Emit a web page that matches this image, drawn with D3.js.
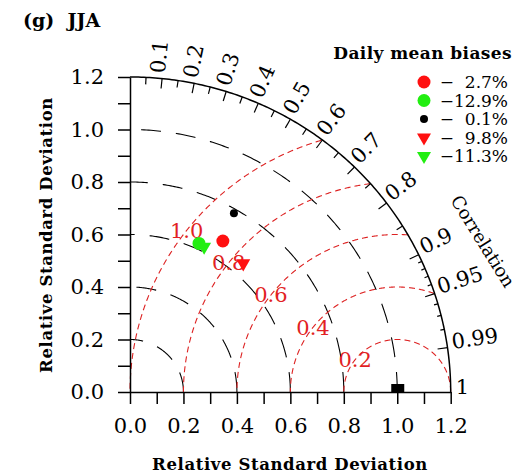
<!DOCTYPE html>
<meta charset="utf-8">
<style>
body { margin: 0; background: #fff; }
text { font-family: "DejaVu Serif", serif; fill: #000; }
.tick text { font-size: 21px; font-family: "DejaVu Serif", serif; }
.title { font-weight: bold; }
.corr-label { font-size: 21px; }
.rms-label { font-size: 21px; fill: #e21f24; }
.legend text { font-size: 17px; white-space: pre; }
</style>
<svg width="520" height="476"></svg>
<script src="https://d3js.org/d3.v7.min.js"></script>
<script>

// values
var biasLabels = [-2.7, -12.9, -0.1, -9.8, -11.3];
var stdRatio   = [0.672, 0.622, 0.784, 0.648, 0.619];
var corr       = [0.517, 0.415, 0.496, 0.654, 0.448];
var shapes     = ["circle", "circle", "dot", "triangle", "triangle"];
var colors     = ["#ff1010", "#22ee11", "#000000", "#ff1010", "#22ee11"];

var stdTicks   = d3.range(0, 13).map(function(i) { return i / 10; });
var stdArcs    = [0.2, 0.4, 0.6, 0.8, 1.0];
var rmsLevels  = [0.2, 0.4, 0.6, 0.8, 1.0];
var corrMajor  = [0.1, 0.2, 0.3, 0.4, 0.5, 0.6, 0.7, 0.8, 0.9, 0.95, 0.99, 1];
var corrLabels = ["0.1", "0.2", "0.3", "0.4", "0.5", "0.6", "0.7", "0.8", "0.9", "0.95", "0.99", "1"];
var corrMinor  = [0.05, 0.15, 0.25, 0.35, 0.45, 0.55, 0.65, 0.75, 0.85,
                  0.91, 0.92, 0.93, 0.94, 0.96, 0.97, 0.98];
var maxStd = 1.2;

var svg = d3.select("svg");

var x = d3.scaleLinear().domain([0, maxStd]).range([130, 450.7]);
var y = d3.scaleLinear().domain([0, maxStd]).range([392, 77]);

function pol(r, th) { return [x(r * Math.cos(th)), y(r * Math.sin(th))]; }

var line = d3.line();

// black dashed std-dev arcs
svg.append("g").selectAll("path")
    .data(stdArcs)
  .enter().append("path")
    .attr("d", function(r) {
      return line(d3.range(0, 181).map(function(i) { return pol(r, i / 180 * Math.PI / 2); }));
    })
    .attr("fill", "none")
    .attr("stroke", "#000")
    .attr("stroke-width", 1.1)
    .attr("stroke-dasharray", "20,15");

// red dashed RMS circles around the reference point
function rmsPoints(R) {
  return d3.range(0, 721).map(function(i) {
    var t = i / 720 * Math.PI;
    return [1 + R * Math.cos(t), R * Math.sin(t)];
  }).filter(function(p) {
    return Math.sqrt(p[0] * p[0] + p[1] * p[1]) <= maxStd + 1e-9 && p[0] >= -1e-9;
  }).map(function(p) { return [x(p[0]), y(p[1])]; });
}

svg.append("g").selectAll("path")
    .data(rmsLevels)
  .enter().append("path")
    .attr("d", function(R) { return line(rmsPoints(R)); })
    .attr("fill", "none")
    .attr("stroke", "#dd2222")
    .attr("stroke-width", 1.1)
    .attr("stroke-dasharray", "6,4");

var labAng = 142 / 180 * Math.PI;
svg.append("g").selectAll("text")
    .data(rmsLevels)
  .enter().append("text")
    .attr("class", "rms-label")
    .attr("x", function(R) { return x(1 + R * Math.cos(labAng)); })
    .attr("y", function(R) { return y(R * Math.sin(labAng)); })
    .attr("dy", "0.35em")
    .attr("text-anchor", "middle")
    .text(d3.format(".1f"));

// outer arc
svg.append("path")
    .attr("d", line(d3.range(0, 181).map(function(i) { return pol(maxStd, i / 180 * Math.PI / 2); })))
    .attr("fill", "none")
    .attr("stroke", "#000")
    .attr("stroke-width", 1.5);

// correlation ticks
function corrTick(len) {
  return function(c) {
    var th = Math.acos(c);
    var a = pol(maxStd, th);
    return line([a, [a[0] - len * Math.cos(th), a[1] + len * Math.sin(th)]]);
  };
}
svg.append("g").selectAll("path")
    .data(corrMajor.slice(0, -1))
  .enter().append("path")
    .attr("d", corrTick(10))
    .attr("stroke", "#000").attr("stroke-width", 1.2);
svg.append("g").selectAll("path")
    .data(corrMinor)
  .enter().append("path")
    .attr("d", function(c) { return corrTick(c > 0.9 ? 4 : 7)(c); })
    .attr("stroke", "#000").attr("stroke-width", 1.2);

svg.append("g").selectAll("text")
    .data(corrMajor)
  .enter().append("text")
    .attr("class", "corr-label")
    .attr("transform", function(c) {
      var th = Math.acos(c);
      var a = pol(maxStd, th);
      return "translate(" + (a[0] + 5 * Math.cos(th)) + "," + (a[1] - 5 * Math.sin(th)) + ")rotate(" + (-th * 180 / Math.PI) + ")";
    })
    .attr("dy", "0.1em")
    .text(function(c, i) { return corrLabels[i]; });

var ct = pol(1.44, 23.5 / 180 * Math.PI);
svg.append("text")
    .attr("transform", "translate(" + ct[0] + "," + ct[1] + ")rotate(58)")
    .attr("text-anchor", "middle")
    .attr("dy", "0.35em")
    .style("font-size", "18px")
    .text("Correlation");

// axes
var fmt = function(d) { return Math.round(d * 10) % 2 === 0 ? d3.format(".1f")(d) : ""; };

var xAxis = svg.append("g")
    .attr("transform", "translate(0," + y(0) + ")")
    .call(d3.axisBottom(x).tickValues(stdTicks).tickFormat(fmt).tickSize(12).tickSizeOuter(0).tickPadding(14));
var yAxis = svg.append("g")
    .attr("transform", "translate(" + x(0) + ",0)")
    .call(d3.axisLeft(y).tickValues(stdTicks).tickFormat(fmt).tickSize(12).tickSizeOuter(0).tickPadding(14));
[xAxis, yAxis].forEach(function(g) {
  g.attr("font-family", null).attr("font-size", null);
  g.selectAll("path, line").attr("stroke-width", 1.5);
});

// reference point
svg.append("rect")
    .attr("x", x(1) - 6)
    .attr("y", y(0) - 8)
    .attr("width", 13)
    .attr("height", 8)
    .attr("fill", "#000");

// model points
function drawMarker(g, shape, color) {
  if (shape === "triangle") {
    g.append("path")
      .attr("d", d3.symbol(d3.symbolTriangle, 85)())
      .attr("transform", "rotate(180)")
      .attr("fill", color);
  } else {
    g.append("circle")
      .attr("r", shape === "dot" ? 4 : 6.5)
      .attr("fill", color);
  }
}

stdRatio.forEach(function(s, i) {
  var p = pol(s, Math.acos(corr[i]));
  var g = svg.append("g").attr("transform", "translate(" + p[0] + "," + p[1] + ")");
  drawMarker(g, shapes[i], colors[i]);
});

// legend
svg.append("text")
    .attr("class", "title")
    .attr("x", 512).attr("y", 59)
    .attr("text-anchor", "end")
    .style("font-size", "17px")
    .style("letter-spacing", "0.4px")
    .text("Daily mean biases");

var legend = svg.append("g").attr("class", "legend");
biasLabels.forEach(function(b, i) {
  var yy = 82 + i * 18.5;
  var g = legend.append("g").attr("transform", "translate(424," + yy + ")");
  drawMarker(g, shapes[i], colors[i]);
  var v = d3.format(".1f")(Math.abs(b));
  if (v.length < 4) v = "\u2007" + v;
  legend.append("text")
    .attr("x", 508).attr("y", yy + 6)
    .attr("text-anchor", "end")
    .text("\u2212" + v + "%");
});

// titles
svg.append("text")
    .attr("class", "title")
    .attr("x", 23).attr("y", 27)
    .style("font-size", "19px")
    .style("white-space", "pre")
    .text("(g)  JJA");

svg.append("text")
    .attr("class", "title")
    .attr("x", 290).attr("y", 470)
    .attr("text-anchor", "middle")
    .style("font-size", "16.5px")
    .style("letter-spacing", "0.6px")
    .text("Relative Standard Deviation");

svg.append("text")
    .attr("class", "title")
    .attr("transform", "translate(52,235)rotate(-90)")
    .attr("text-anchor", "middle")
    .style("font-size", "16.5px")
    .style("letter-spacing", "0.6px")
    .text("Relative Standard Deviation");

</script>
